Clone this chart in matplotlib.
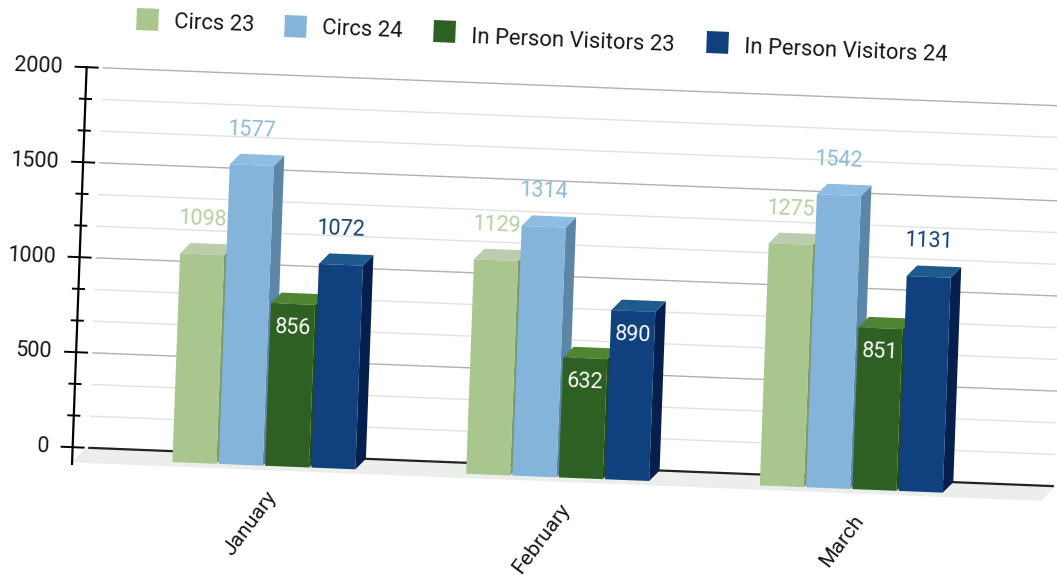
import numpy as np
import matplotlib
matplotlib.use('Agg')
import matplotlib.pyplot as plt
from matplotlib.patches import Polygon, Rectangle
from matplotlib.transforms import Affine2D

months = ['January', 'February', 'March']
series_names = ['Circs 23', 'Circs 24', 'In Person Visitors 23', 'In Person Visitors 24']
circs_23 = [1098, 1129, 1275]
circs_24 = [1577, 1314, 1542]
visitors_23 = [856, 632, 851]
visitors_24 = [1072, 890, 1131]
y_major = [0, 500, 1000, 1500, 2000]
y_labels = ['0', '500', '1000', '1500', '2000']

series = [circs_23, circs_24, visitors_23, visitors_24]
front_colors = ['#a9c68f', '#84b4d9', '#2d6022', '#10407e']
top_colors = ['#bccdae', '#8fbde2', '#4f8433', '#1f5a8f']
side_colors = ['#7d9a68', '#5b86a8', '#1f4a1a', '#071f4c']
label_colors = ['#b5cfa0', '#8db8d8', 'white', '#123f6e']

plt.rcParams['font.family'] = ['Roboto', 'DejaVu Sans']

fig = plt.figure(figsize=(10.57, 5.88), dpi=100)
ax = fig.add_axes([0, 0, 1, 1])
ax.set_xlim(0, 1057)
ax.set_ylim(588, 0)
ax.autoscale(False)
ax.axis('off')

# the page is scanned at a tilt, so (category, value) maps to pixels through a skewed matrix
tilt = Affine2D(np.array([[293.7, 0.007, 263.9],
                          [11.66, -0.19, 465.7],
                          [0, 0, 1]]))
tr = tilt + ax.transData
angle = -2.27

# depth of the 3d box, in category/value units
du = 0.0344
dv = 57.4
pitch = 0.1577
width = 0.15

# floor
floor_x0 = -0.64
floor_x1 = 2.66
ax.add_patch(Polygon([(floor_x0 + du, dv), (floor_x1 + du, dv),
                      (floor_x1 - 0.4 * du, -0.4 * dv), (floor_x0 - 0.4 * du, -0.4 * dv)],
                     closed=True, transform=tr, facecolor='#eceeec', edgecolor='none', zorder=1))

# gridlines on the back wall
grid_values = np.arange(0, 13) * 2000 / 12
for i, v in enumerate(grid_values):
    if v == 0:
        c, lw = '#222222', 1.6
    elif i % 3 == 0:
        c, lw = '#b0b0b0', 1.0
    else:
        c, lw = '#e2e2e2', 1.0
    ax.plot([-0.63 + du, 2.65 + du], [v + dv, v + dv], color=c, lw=lw, transform=tr, zorder=2)

# y axis with ticks
axis_u = -0.687
ax.plot([axis_u + du, axis_u + du], [-88 + dv, 2000 + dv], color='black', lw=1.6, transform=tr, zorder=3)
for i, v in enumerate(grid_values):
    half = 0.0375 if i % 3 == 0 else 0.019
    ax.plot([axis_u + du - half, axis_u + du + half], [v + dv, v + dv], color='black', lw=1.4,
            transform=tr, zorder=3)
for v, s in zip(y_major, y_labels):
    ax.annotate(s, xy=(axis_u + du, v + dv), xycoords=tr, xytext=(-24, 0), textcoords='offset pixels',
                ha='right', va='center', fontsize=15.5, color='#151515', rotation=angle,
                rotation_mode='anchor', zorder=6)

# bars
x = np.arange(len(months))
for k, values in enumerate(series):
    pos = x + (k - 1.5) * pitch
    for p, v in zip(pos, values):
        r = p + width / 2
        l = p - width / 2
        ax.add_patch(Polygon([(r, 0), (r, v), (r + du, v + dv), (r + du, dv)], closed=True,
                             transform=tr, facecolor=side_colors[k], edgecolor='none', zorder=4 + k * 0.1))
        ax.add_patch(Polygon([(l, v), (r, v), (r + du, v + dv), (l + du, v + dv)], closed=True,
                             transform=tr, facecolor=top_colors[k], edgecolor='none', zorder=4 + k * 0.1))
        ax.add_patch(Polygon([(l, 0), (r, 0), (r, v), (l, v)], closed=True,
                             transform=tr, facecolor=front_colors[k], edgecolor='none', zorder=4 + k * 0.1))
        # small bars carry the value inside
        inside = k >= 2 and v < 1000
        ax.annotate(str(v), xy=(p, v), xycoords=tr, xytext=(0, -24 if inside else 35),
                    textcoords='offset pixels', ha='center', va='center', fontsize=15.5,
                    color='white' if inside else label_colors[k], rotation=angle,
                    rotation_mode='anchor', zorder=7)

# category labels
for i, m in enumerate(months):
    ax.annotate(m, xy=(i, 0), xycoords=tr, xytext=(9, -28), textcoords='offset pixels',
                ha='right', va='center', fontsize=15.2, color='#151515', rotation=53,
                rotation_mode='anchor', zorder=7)

# legend follows the page tilt
swatch_x = [137, 285, 434, 707]
swatch_y = [8, 15, 20, 31]
text_x = [174, 322, 471, 744]
text_y = [23, 29, 38, 48]
for k, name in enumerate(series_names):
    ax.add_patch(Rectangle((swatch_x[k], swatch_y[k]), 22, 22, angle=-angle, facecolor=front_colors[k],
                           edgecolor='none', zorder=6))
    ax.text(text_x[k], text_y[k], name, ha='left', va='center', fontsize=15.8, color='#151515',
            rotation=angle, rotation_mode='anchor', zorder=6)

fig.savefig('out.png', dpi=100)
